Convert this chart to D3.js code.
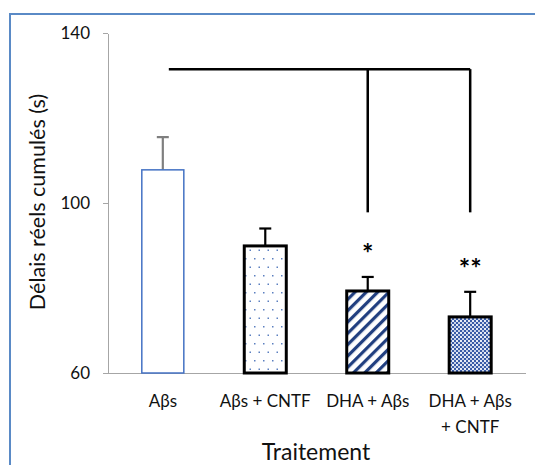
<!DOCTYPE html>
<html lang="fr">
<head>
    <meta charset="utf-8">
    <title>Traitement</title>
    <script src="https://d3js.org/d3.v7.min.js" charset="utf-8"></script>
    <style>
        body { margin: 0; background: white; }
        text { font-family: Lato, "Open Sans", sans-serif; fill: #111; }
        .axis path, .axis line { fill: none; stroke: #a6a6a6; stroke-width: 1.5; shape-rendering: crispEdges; }
        .axis text { font-size: 17px; fill: #111; }
    </style>
</head>
<body>
<script>
    var categories = ["Aβs", "Aβs + CNTF", "DHA + Aβs", "DHA + Aβs\n+ CNTF"]
    var means = [107.8, 89.9, 79.3, 73.2]
    var errors = [7.7, 4.1, 3.3, 5.9]
    var stars = ["", "", "*", "**"]
    var yTicks = [60, 100, 140]
    // significance bracket: from bar 0 to bars 2 and 3
    var bracketLevel = 131.5
    var bracketDrop = 97.8
    var bracketTargets = [2, 3]

    var w = 535, h = 465

    var svg = d3.select("body").append("svg").attr("width", w).attr("height", h)

    // chart frame (runs off the right and bottom of the picture)
    svg.append("rect").attr("x", 10).attr("y", 14).attr("width", 700).attr("height", 700)
        .attr("fill", "none").attr("stroke", "#5a8ac6").attr("stroke-width", 2)

    var defs = svg.append("defs")

    var dots = defs.append("pattern").attr("id", "dots").attr("patternUnits", "userSpaceOnUse")
        .attr("width", 9).attr("height", 17)
    dots.append("rect").attr("x", 2).attr("y", 3).attr("width", 1.5).attr("height", 1.5).attr("fill", "#5b7fc0")
    dots.append("rect").attr("x", 6.5).attr("y", 11.5).attr("width", 1.5).attr("height", 1.5).attr("fill", "#5b7fc0")

    var stripes = defs.append("pattern").attr("id", "stripes").attr("patternUnits", "userSpaceOnUse")
        .attr("width", 8).attr("height", 8).attr("patternTransform", "rotate(45)")
    stripes.append("rect").attr("width", 8).attr("height", 8).attr("fill", "white")
    stripes.append("rect").attr("width", 3.2).attr("height", 8).attr("fill", "#213f80")

    var checks = defs.append("pattern").attr("id", "checks").attr("patternUnits", "userSpaceOnUse")
        .attr("width", 4).attr("height", 4)
    checks.append("rect").attr("width", 4).attr("height", 4).attr("fill", "#3a5ca6")
    checks.append("rect").attr("width", 2).attr("height", 2).attr("fill", "#e8ecf6")
    checks.append("rect").attr("x", 2).attr("y", 2).attr("width", 2).attr("height", 2).attr("fill", "#c9d3ea")

    var fills = ["white", "url(#dots)", "url(#stripes)", "url(#checks)"]
    var strokes = ["#4472c4", "black", "black", "black"]
    var strokeW = [1.5, 3, 3, 3]
    var errColor = ["#7f7f7f", "black", "black", "black"]

    var x = d3.scaleBand().domain(categories).range([108, 525]).paddingInner(0.59).paddingOuter(0.33)
    var y = d3.scaleLinear().domain([60, 140]).range([373, 33])

    var yAxis = d3.axisLeft(y).tickValues(yTicks).tickSize(5).tickPadding(13).tickSizeOuter(0)
    svg.append("g").attr("class", "axis").attr("transform", "translate(108,0)").call(yAxis)

    var xAxis = d3.axisBottom(x).tickSize(0).tickSizeOuter(0)
    var gx = svg.append("g").attr("class", "axis").attr("transform", "translate(0,373)").call(xAxis)
    gx.selectAll(".tick text").each(function(d) {
        var t = d3.select(this).text("").attr("y", 0).attr("dy", null)
        d.split("\n").forEach(function(line, i) {
            t.append("tspan").attr("x", 0).attr("y", 34 + i * 26).text(line)
        })
    })

    var data = categories.map(function(c, i) { return {c: c, m: means[i], e: errors[i], s: stars[i], i: i} })

    // error bars behind the bars
    var eb = svg.append("g")
    eb.selectAll("line.v").data(data).join("line")
        .attr("x1", function(d) { return x(d.c) + x.bandwidth() / 2 })
        .attr("x2", function(d) { return x(d.c) + x.bandwidth() / 2 })
        .attr("y1", function(d) { return y(d.m) })
        .attr("y2", function(d) { return y(d.m + d.e) })
        .attr("stroke", function(d) { return errColor[d.i] }).attr("stroke-width", 2.2)
    eb.selectAll("line.c").data(data).join("line")
        .attr("x1", function(d) { return x(d.c) + x.bandwidth() / 2 - 6 })
        .attr("x2", function(d) { return x(d.c) + x.bandwidth() / 2 + 6 })
        .attr("y1", function(d) { return y(d.m + d.e) })
        .attr("y2", function(d) { return y(d.m + d.e) })
        .attr("stroke", function(d) { return errColor[d.i] }).attr("stroke-width", 2.2)

    svg.append("g").selectAll("rect").data(data).join("rect")
        .attr("x", function(d) { return x(d.c) })
        .attr("y", function(d) { return y(d.m) })
        .attr("width", x.bandwidth())
        .attr("height", function(d) { return y(60) - y(d.m) })
        .attr("fill", function(d) { return fills[d.i] })
        .attr("stroke", function(d) { return strokes[d.i] })
        .attr("stroke-width", function(d) { return strokeW[d.i] })

    svg.append("g").selectAll("text").data(data).join("text")
        .attr("x", function(d) { return x(d.c) + x.bandwidth() / 2 })
        .attr("y", function(d) { return y(d.m + d.e) - 14 })
        .attr("text-anchor", "middle").attr("font-size", 27).attr("font-weight", "bold")
        .style("fill", "black")
        .text(function(d) { return d.s })

    // bracket
    var cx = function(i) { return x(categories[i]) + x.bandwidth() / 2 }
    var br = svg.append("g").attr("stroke", "black").attr("stroke-width", 2.5).attr("fill", "none")
    br.append("line").attr("x1", cx(0) + 6).attr("x2", cx(bracketTargets[1]))
        .attr("y1", y(bracketLevel)).attr("y2", y(bracketLevel))
    bracketTargets.forEach(function(t) {
        br.append("line").attr("x1", cx(t)).attr("x2", cx(t))
            .attr("y1", y(bracketLevel)).attr("y2", y(bracketDrop))
    })

    svg.append("text").attr("transform", "translate(45,202) rotate(-90)")
        .attr("text-anchor", "middle").attr("font-size", 21.5).text("Délais réels cumulés (s)")
    svg.append("text").attr("x", 316).attr("y", 460)
        .attr("text-anchor", "middle").attr("font-size", 23).text("Traitement")
</script>
</body>
</html>
